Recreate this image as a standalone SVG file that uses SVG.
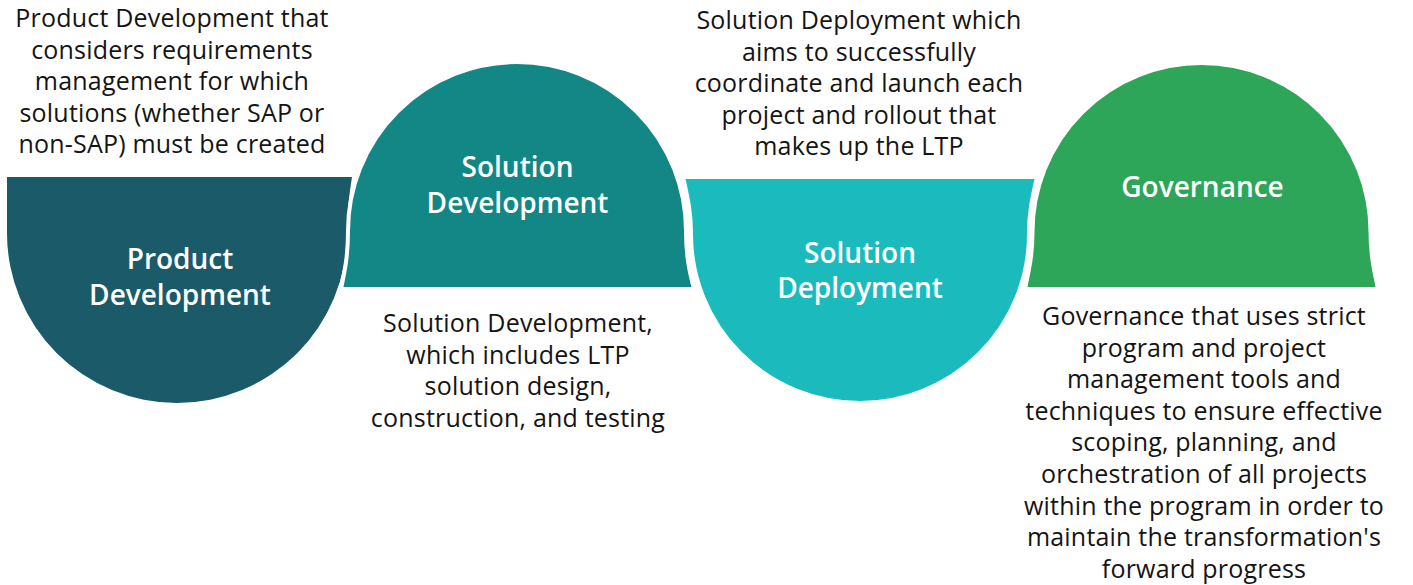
<svg xmlns="http://www.w3.org/2000/svg" width="1413" height="585" viewBox="0 0 1413 585">
<style>
.shape{stroke:#ffffff;stroke-width:4;stroke-linejoin:round}
.lbl{font-family:"Open Sans","Noto Sans",sans-serif;font-size:28px;font-weight:600;fill:#ffffff;text-anchor:middle}
.desc{font-family:"Open Sans","Noto Sans",sans-serif;font-size:25px;letter-spacing:0.2px;fill:#141414;text-anchor:middle}
</style>
<rect width="1413" height="585" fill="#ffffff"/>
<g id="node-product-development">
<path fill="#1a5a69" d="M7,177 L352,177 C349,195 347,215 347,233 A170,170 0 0 1 7,233 Z"/>
<text class="lbl" x="180" y="269">Product</text>
<text class="lbl" x="180" y="305">Development</text>
</g>
<g id="node-solution-development">
<path class="shape" fill="#138786" d="M341,289 C345,270 348,255 348,231 A169,169 0 0 1 686,231 C686,255 689,270 694,289 Z"/>
<text class="lbl" x="517.5" y="177">Solution</text>
<text class="lbl" x="517.5" y="213">Development</text>
</g>
<g id="node-solution-deployment">
<path class="shape" fill="#1bbbbd" d="M683,177 L1037,177 C1033,195 1029,210 1029,234 A169,169 0 0 1 691,234 C691,210 687,195 683,177 Z"/>
<text class="lbl" x="860" y="263">Solution</text>
<text class="lbl" x="860" y="298">Deployment</text>
</g>
<g id="node-governance">
<path class="shape" fill="#2da65a" d="M1025,289 C1029,270 1032.5,255 1032.5,232 A169,169 0 0 1 1370.5,232 C1370.5,255 1374,270 1378,289 Z"/>
<text class="lbl" x="1202.5" y="197">Governance</text>
</g>
<g id="desc-product-development">
<text class="desc" x="172" y="27">Product Development that</text>
<text class="desc" x="172" y="58.5">considers requirements</text>
<text class="desc" x="172" y="90">management for which</text>
<text class="desc" x="172" y="121.5">solutions (whether SAP or</text>
<text class="desc" x="172" y="153">non-SAP) must be created</text>
</g>
<g id="desc-solution-development">
<text class="desc" x="518" y="332">Solution Development,</text>
<text class="desc" x="518" y="363.5">which includes LTP</text>
<text class="desc" x="518" y="395">solution design,</text>
<text class="desc" x="518" y="426.5">construction, and testing</text>
</g>
<g id="desc-solution-deployment">
<text class="desc" x="859" y="29">Solution Deployment which</text>
<text class="desc" x="859" y="60.5">aims to successfully</text>
<text class="desc" x="859" y="92">coordinate and launch each</text>
<text class="desc" x="859" y="123.5">project and rollout that</text>
<text class="desc" x="859" y="155">makes up the LTP</text>
</g>
<g id="desc-governance">
<text class="desc" x="1204" y="325">Governance that uses strict</text>
<text class="desc" x="1204" y="356.6">program and project</text>
<text class="desc" x="1204" y="388.2">management tools and</text>
<text class="desc" x="1204" y="419.8">techniques to ensure effective</text>
<text class="desc" x="1204" y="451.4">scoping, planning, and</text>
<text class="desc" x="1204" y="483">orchestration of all projects</text>
<text class="desc" x="1204" y="514.6">within the program in order to</text>
<text class="desc" x="1204" y="546.2">maintain the transformation's</text>
<text class="desc" x="1204" y="577.8">forward progress</text>
</g>
<g id="connectors"></g>
</svg>
